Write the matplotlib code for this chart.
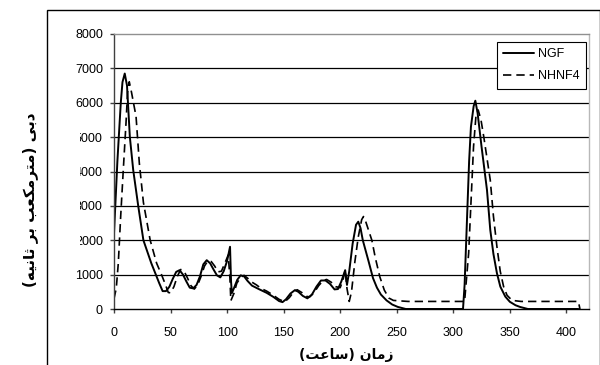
import matplotlib
matplotlib.use("Agg")
import matplotlib.pyplot as plt
from matplotlib.patches import Rectangle

# ---- data ----
ngf_x = [0, 3, 6, 7.5, 9.5, 11.5, 14, 17, 21.5, 26, 33, 37, 40, 43, 46, 49, 52, 55, 58, 61,
         64, 67, 70, 73, 76, 79, 82, 85, 88, 91, 94, 97, 100, 102.6, 103.5, 104.2, 106, 109,
         112, 115, 118, 122, 128, 135, 141, 146, 149, 152, 156, 160, 163, 167, 171, 175, 179,
         183, 187, 191, 195, 198, 201, 204.4, 206, 208, 211, 214, 216, 218, 220, 225, 229,
         232.5, 236, 241, 246, 251, 258, 308.6, 310, 312, 314, 315.6, 318, 319.5, 321.5, 325,
         329.8, 332.7, 335.5, 338.6, 341.6, 346, 350, 355, 359, 366, 410.6]
ngf_y = [2200, 4300, 6000, 6600, 6850, 6500, 5010, 4040, 2980, 2000, 1330, 1000, 750, 520,
         520, 650, 880, 1080, 1130, 1000, 800, 620, 600, 700, 950, 1300, 1420, 1330, 1150,
         980, 920, 1100, 1400, 1810, 800, 460, 600, 850, 980, 950, 820, 680, 580, 470, 350,
         230, 200, 280, 450, 550, 500, 380, 310, 420, 650, 830, 830, 730, 570, 580, 800, 1130,
         700, 1100, 1900, 2450, 2540, 2350, 2000, 1400, 900, 620, 420, 250, 130, 60, 0, 0,
         700, 2500, 4300, 5300, 5900, 6060, 5700, 4720, 3460, 2300, 1600, 1040, 650, 360,
         210, 110, 60, 0, 0]

nhnf4_x = [0, 2, 3.8, 5.9, 8.2, 10.6, 12, 13.5, 15.5, 19.5, 22.4, 26, 32, 37.7, 42, 45, 48,
           50, 53, 56, 59, 62, 65, 68, 71, 74, 77, 80, 83, 86, 89, 92, 95, 98, 101, 102.5,
           103.3, 106, 108.6, 112, 115, 118, 122, 126, 130, 135, 140, 146, 151, 155, 159,
           162, 166, 170, 173, 177, 181, 185, 188, 192, 196, 200, 202.5, 204.5, 206, 208,
           210, 213, 216, 219, 220.6, 222.5, 225, 228, 231, 235, 239, 243, 247, 260, 310,
           310.6, 313.6, 317.9, 320, 322, 324.5, 327, 332.7, 335.5, 338.6, 341.5, 344.5,
           347.5, 352, 360, 410.6, 412]
nhnf4_y = [300, 600, 1330, 2690, 4040, 5400, 6300, 6610, 6300, 5600, 4240, 3100, 2000, 1330,
           1000, 750, 480, 470, 650, 950, 1150, 1100, 900, 680, 580, 700, 950, 1250, 1400,
           1380, 1250, 1080, 1100, 1330, 1570, 900, 240, 450, 750, 920, 980, 900, 780, 700,
           600, 520, 420, 280, 210, 330, 500, 560, 480, 370, 350, 480, 680, 830, 860, 780,
           650, 620, 850, 1130, 600, 220, 500, 1380, 2100, 2600, 2690, 2550, 2300, 2000,
           1500, 940, 550, 320, 250, 220, 220, 460, 1630, 4720, 5600, 5790, 5500, 5000,
           3750, 2700, 1810, 1100, 650, 400, 250, 220, 220, 0]

series_names = ["NGF", "NHNF4"]
x_ticks = [0, 50, 100, 150, 200, 250, 300, 350, 400]
y_ticks = [0, 1000, 2000, 3000, 4000, 5000, 6000, 7000, 8000]

# Persian labels, pre-shaped (presentation forms) in visual (left-to-right) order
xlabel_txt = "(\uFE96\uFECB\uFE8E\uFEB3) \uFEE5\uFE8E\uFEE3\uFEAF"  # زمان (ساعت)
ylabel_txt = ("(\uFEEA\uFBFF\uFEE7\uFE8E\uFE9B \uFEAE\uFE91 "
              "\uFE90\uFECC\uFB91\uFEE3\uFEAE\uFE98\uFEE3) \uFBFD\uFE91\uFEA9")  # دبی (مترمکعب بر ثانیه)

num_font = "Liberation Sans"
num_size = 9

W, H = 600, 365
fig = plt.figure(figsize=(W / 100, H / 100), dpi=100)
fig.patch.set_facecolor("white")

L, R, T, B = 114, 589, 34, 309
ax = fig.add_axes([L / W, 1 - B / H, (R - L) / W, (B - T) / H])

ax.plot(ngf_x, ngf_y, color="black", lw=1.4, label=series_names[0],
        solid_joinstyle="round", solid_capstyle="round")
ax.plot(nhnf4_x, nhnf4_y, color="black", lw=1.2, linestyle=(0, (5, 3)), label=series_names[1])

ax.set_xlim(0, 420)
ax.set_ylim(0, 8000)
ax.set_xticks(x_ticks)
ax.set_yticks(y_ticks)
ax.set_xticklabels([str(v) for v in x_ticks], fontfamily=num_font, fontsize=num_size)
ax.set_yticklabels([str(v) for v in y_ticks], fontfamily=num_font, fontsize=num_size)
ax.tick_params(axis="both", direction="out", length=3, width=1, color="#404040")
ax.tick_params(axis="x", pad=10)
ax.tick_params(axis="y", pad=5)

for v in y_ticks[1:-1]:
    ax.axhline(v, color="black", lw=0.9, zorder=0.5)

ax.spines["top"].set_color("#909090")
ax.spines["right"].set_color("#b8b8b8")
ax.spines["left"].set_color("#404040")
ax.spines["bottom"].set_color("black")
for s in ax.spines.values():
    s.set_linewidth(1.0)

leg = ax.legend(loc="upper right", bbox_to_anchor=((586 - L) / (R - L), 1 - (42 - T) / (B - T)),
                borderaxespad=0, fancybox=False, framealpha=1, edgecolor="black",
                prop={"family": num_font, "size": num_size}, handlelength=2.5,
                handletextpad=0.3, borderpad=0.5, labelspacing=0.8)
leg.get_frame().set_linewidth(0.8)

fig.text(346 / W, 1 - 355 / H, xlabel_txt, ha="center", va="center",
         fontsize=10, fontweight="bold", family=["DejaVu Sans"])
fig.text(30 / W, 1 - 200 / H, ylabel_txt, ha="center", va="center", rotation=90,
         fontsize=11, fontweight="bold", family=["DejaVu Sans"])

# white patch that clips the left edge of some tick labels, as in the reference
fig.add_artist(Rectangle((60 / W, 1 - 250 / H), 19.5 / W, 122 / H, transform=fig.transFigure,
                         facecolor="white", edgecolor="none", zorder=5))
# outer chart frame (cropped at right and bottom)
fig.add_artist(Rectangle((47 / W, -0.1), (599.5 - 47) / W, 1.1 - 10.5 / H,
                         transform=fig.transFigure, fill=False, edgecolor="black", lw=1.0))

fig.savefig("out.png", dpi=100)
